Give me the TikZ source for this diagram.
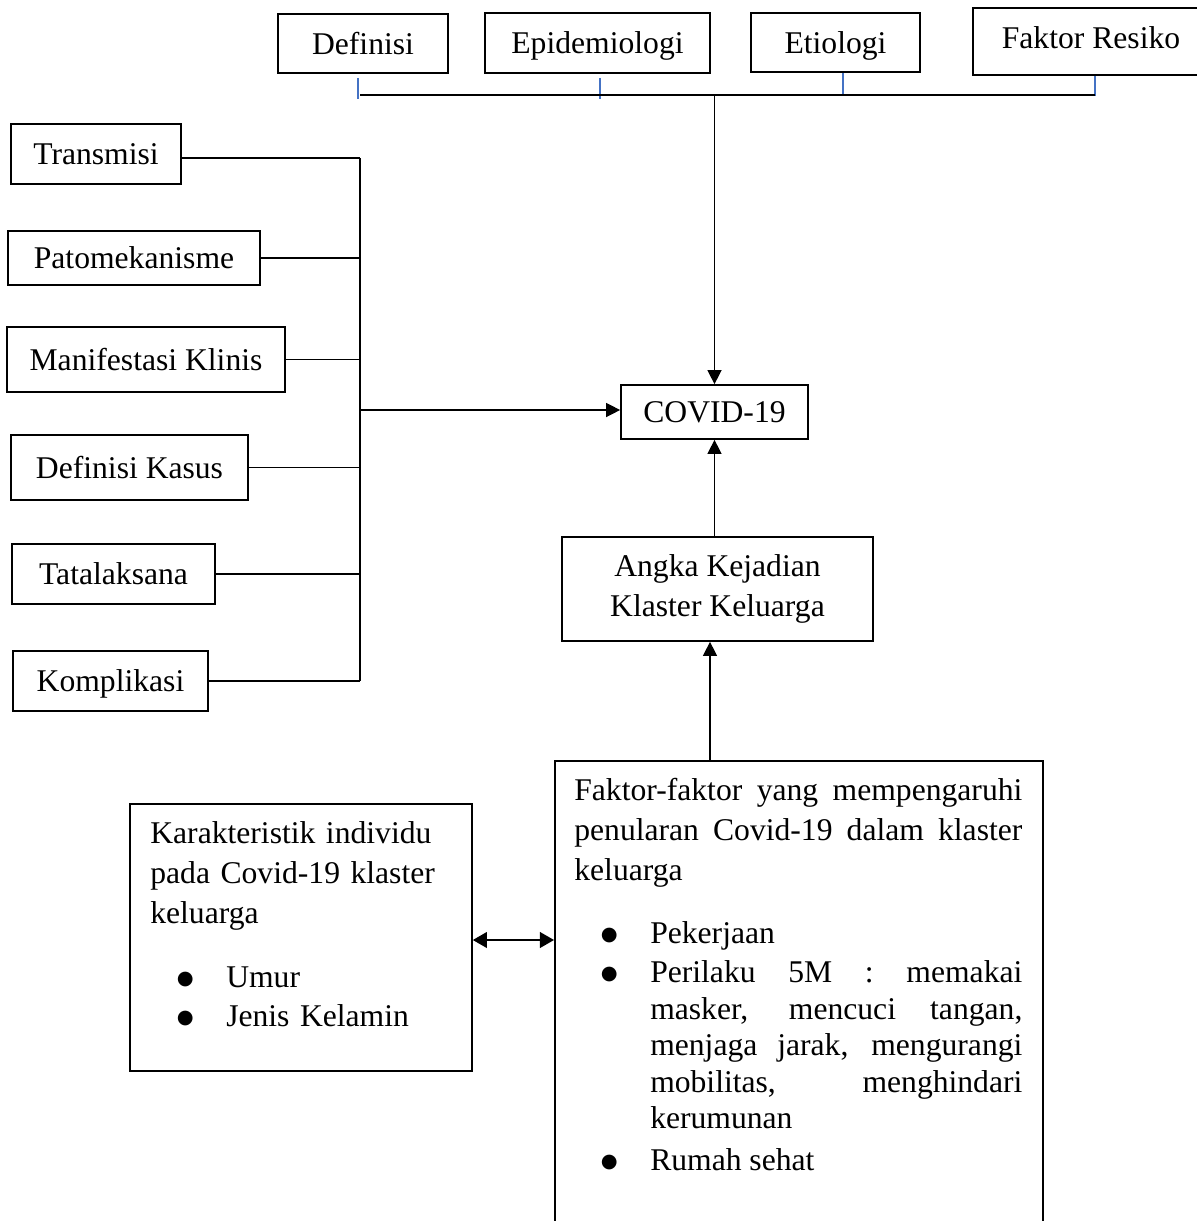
\documentclass[tikz,border=0pt]{standalone}
\usepackage{fontspec}
\setmainfont{Liberation Serif}
\newfontfamily\dotfont{DejaVu Sans}
\usepackage{xcolor}
\usetikzlibrary{arrows.meta, calc}
\definecolor{tickblue}{RGB}{68,114,196}
\newcommand{\bigdot}{\raisebox{1.8pt}{\dotfont\fontsize{11}{11}\selectfont ●}}
\newcommand{\bitem}[1]{\par\hangindent=43.2pt\hangafter=0\noindent\llap{\makebox[0pt][c]{\bigdot}\hspace{23.3pt}}#1}

\begin{document}
\begin{tikzpicture}[x=0.02cm, y=-0.02cm, font=\fontsize{18}{22.8}\selectfont,
  box/.style={draw, line width=1pt, inner sep=0pt, text height=12pt, text depth=0pt},
  bigbox/.style={draw, line width=1pt, inner sep=0pt, align=center},
  txt/.style={inner sep=0pt},
  wire/.style={line width=0.8pt},
  arr/.style={wire, -{Triangle[length=8pt, width=8pt]}},
  twoarr/.style={wire, {Triangle[length=8pt, width=9pt]}-{Triangle[length=8pt, width=9pt]}},
  tick/.style={line width=0.8pt, tickblue}]
  \useasboundingbox (0,0) rectangle (1197,1221);

  % --- Top row ---
  \node[box, minimum width=3.4cm, minimum height=1.18cm] (def) at (363,43.5) {Definisi};
  \node[box, minimum width=4.5cm, minimum height=1.2cm] (epi) at (597.5,43) {Epidemiologi};
  \node[box, minimum width=3.38cm, minimum height=1.18cm] (eti) at (835.5,42.5) {Etiologi};
  \node[box, text depth=4.5pt, minimum width=4.72cm, minimum height=1.34cm] (fakres) at (1091,41.5) {Faktor Resiko};
  % small ticks
  \draw[tick] ($(def.south)+(-5,4)$) -- ++(0,21);
  \draw[tick] ($(epi.south)+(2.5,4)$) -- ++(0,21);
  \draw[tick] ($(eti.south)+(7.5,0)$) -- ++(0,22);
  \draw[tick] ($(fakres.south)+(4,0)$) -- ++(0,20);
  % bus to COVID-19
  \coordinate (tbusL) at (360,95);
  \coordinate (tbusR) at (1095,95);
  \draw[wire] (tbusL) -- (tbusR);

  % --- Center ---
  \node[box, minimum width=3.74cm, minimum height=1.08cm] (covid) at (714.5,412) {COVID-19};
  \draw[arr] (covid.north |- tbusL) -- (covid.north);
  \node[bigbox, minimum width=6.22cm, minimum height=2.08cm] (angka) at (717.5,589) {Angka Kejadian\\Klaster Keluarga};
  \draw[arr] (angka.north -| covid) -- (covid.south);

  % --- Left column ---
  \node[box, minimum width=3.4cm, minimum height=1.2cm] (trans) at (96,154) {Transmisi};
  \node[box, minimum width=5.04cm, minimum height=1.08cm] (pato) at (134,258) {Patomekanisme};
  \node[box, minimum width=5.56cm, minimum height=1.3cm] (mani) at (146,359.5) {Manifestasi Klinis};
  \node[box, minimum width=4.74cm, minimum height=1.3cm] (defk) at (129.5,467.5) {Definisi Kasus};
  \node[box, minimum width=4.06cm, minimum height=1.2cm] (tata) at (113.5,574) {Tatalaksana};
  \node[box, minimum width=3.9cm, minimum height=1.2cm] (komp) at (110.5,681) {Komplikasi};
  \coordinate (lbus) at (360,410);
  \draw[wire] ($(trans.east)+(0,4)$) -- ($(trans.east -| lbus)+(0,4)$);
  \foreach \n in {pato,mani,defk,tata,komp}
    \draw[wire] (\n.east) -- (\n.east -| lbus);
  \draw[wire] ($(trans.east -| lbus)+(0,4)$) -- (komp.east -| lbus);
  \draw[arr] (lbus) -- (covid.west |- lbus);

  % --- Bottom ---
  \node[box, minimum width=6.84cm, minimum height=5.34cm] (karak) at (301,937.5) {};
  \node[txt, text width=171.9pt, align=left, anchor=north west] (karaktxt) at (150,821)
    {Karakteristik individu\newline pada Covid-19 klaster\newline keluarga\par
     \vspace{15.6pt}\baselineskip=20.8pt
     \bitem{Umur}\par\vspace{1.4pt}
     \bitem{Jenis Kelamin}\par};
  \node[draw, line width=1pt, inner sep=0pt, minimum width=9.76cm, minimum height=9.6cm, anchor=north west] (faktor) at (554,760) {};
  \node[txt, text width=255pt, align=justify, anchor=north west] (faktortxt) at (574,778)
    {Faktor-faktor yang mempengaruhi\linebreak penularan Covid-19 dalam klaster\linebreak keluarga\par
     \vspace{15pt}\baselineskip=20.8pt
     \bitem{Pekerjaan}\par\vspace{1.4pt}
     \bitem{Perilaku 5M : memakai\linebreak masker, mencuci tangan,\linebreak menjaga jarak, mengurangi\linebreak mobilitas, menghindari\linebreak kerumunan}\par\vspace{3pt}
     \bitem{Rumah sehat}\par};
  \coordinate (fk) at ($(faktor.north west)+(156,0)$);
  \draw[arr] (fk) -- (fk |- angka.south);
  \draw[twoarr] (karak.east |- 0,940) -- (faktor.west |- 0,940);
\end{tikzpicture}
\end{document}
